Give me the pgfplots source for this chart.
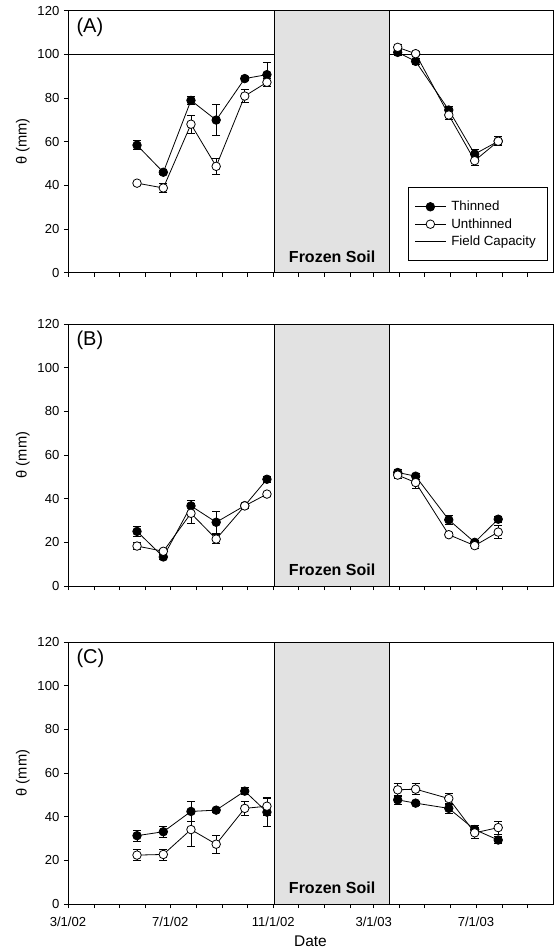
\documentclass[border=0pt]{standalone}
\usepackage{fontspec}
\setmainfont{Liberation Sans}
\usepackage{pgfplots}
\pgfplotsset{compat=1.18}
\definecolor{frozen}{RGB}{226,226,226}
\pgfplotsset{
  panel/.style={
    scale only axis, width=363.75pt, height=196.5pt,
    anchor=south west,
    xmin=0, xmax=579, ymin=0, ymax=120,
    xtick={0,122,245,365,487},
    minor xtick={31,61,92,153,184,214,275,306,337,396,426,457,518,549},
    ytick={0,20,40,60,80,100,120},
    xtick pos=left, ytick pos=left,
    tick align=outside,
    major tick length=3pt, minor tick length=3pt,
    tick style={black, line width=0.6pt},
    axis line style={line width=0.7pt},
    /pgf/number format/assume math mode=true,
    ticklabel style={font=\fontsize{9.8}{11}\selectfont},
    xticklabel style={yshift=-3pt},
    xticklabels={},
    ylabel={θ (mm)},
    ylabel style={font=\fontsize{11}{13}\selectfont, at={(axis description cs:-0.093,0.5)}, anchor=center},
  },
  tser/.style={black, line width=0.6pt, mark=*, mark size=3.2pt,
    mark options={solid, fill=black, line width=0.6pt},
    /pgfplots/error bars/y dir=both, /pgfplots/error bars/y explicit,
    /pgfplots/error bars/error bar style={line width=0.6pt, black},
    /pgfplots/error bars/error mark options={rotate=90, mark size=3pt, line width=0.6pt, black}},
  user/.style={black, line width=0.6pt, mark=*, mark size=3.2pt,
    mark options={solid, fill=white, line width=0.6pt},
    /pgfplots/error bars/y dir=both, /pgfplots/error bars/y explicit,
    /pgfplots/error bars/error bar style={line width=0.6pt, black},
    /pgfplots/error bars/error mark options={rotate=90, mark size=3pt, line width=0.6pt, black}},
  frozenbox/.style={draw=black, line width=0.7pt, fill=frozen},
}
\newcommand{\frozenlabel}{\node[font=\bfseries\fontsize{12}{14}\selectfont] at (axis cs:315.3,7.3) {Frozen Soil};}
\begin{document}
\begin{tikzpicture}
\useasboundingbox (0,0) rectangle (417pt,-712.5pt);

% ---------------- Panel A ----------------
\begin{axis}[panel, at={(51pt,-204.5pt)},
  legend style={at={(0.99,0.044)}, anchor=south east, draw=black, line width=0.6pt,
    font=\fontsize{10}{12}\selectfont, cells={anchor=west}, row sep=0.3pt,
    inner xsep=5pt, inner ysep=8pt, nodes={inner xsep=4pt}},
  legend image code/.code={\draw[mark repeat=2,mark phase=2,#1] plot coordinates {(0cm,0cm) (0.4cm,0cm) (0.8cm,0cm)};},
]
\addlegendimage{black, line width=0.6pt, mark=*, mark size=3.2pt, mark options={solid, fill=black}}
\addlegendentry{Thinned}
\addlegendimage{black, line width=0.6pt, mark=*, mark size=3.2pt, mark options={solid, fill=white}}
\addlegendentry{Unthinned}
\addlegendimage{black, line width=0.6pt}
\addlegendentry{Field Capacity}
\addplot[black, line width=0.7pt, forget plot] coordinates {(0,100) (579,100)};
\addplot[frozenbox, forget plot] coordinates {(247,0) (247,120) (383.5,120) (383.5,0)} -- cycle;
\frozenlabel
\node[anchor=west, font=\fontsize{15}{17}\selectfont] at (rel axis cs:0.008,0.938) {(A)};
\addplot[tser, forget plot] table[x=d, y=v, y error=e, row sep=\\] {
d v e \\ 82.4 58.4 2 \\ 113.8 46.0 1 \\ 146.8 78.9 2 \\ 176.9 69.9 7 \\ 211.0 88.9 1 \\ 237.5 90.7 5.5 \\ };
\addplot[user, forget plot] table[x=d, y=v, y error=e, row sep=\\] {
d v e \\ 82.4 41.0 1 \\ 113.8 38.8 2 \\ 146.8 68.0 4 \\ 176.9 48.7 3.5 \\ 211.0 80.9 3 \\ 237.5 87.2 2 \\ };
\addplot[tser, forget plot] table[x=d, y=v, y error=e, row sep=\\] {
d v e \\ 393.6 100.9 1.5 \\ 415.0 96.8 1.5 \\ 454.6 74.5 1.5 \\ 485.5 54.3 2 \\ 513.6 60.2 2 \\ };
\addplot[user, forget plot] table[x=d, y=v, y error=e, row sep=\\] {
d v e \\ 393.6 103.2 1.5 \\ 415.0 100.3 1 \\ 454.6 72.2 2 \\ 485.5 51.3 2 \\ 513.6 60.2 2 \\ };
\end{axis}

% ---------------- Panel B ----------------
\begin{axis}[panel, at={(51pt,-439.5pt)}]
\addplot[frozenbox] coordinates {(247,0) (247,120) (383.5,120) (383.5,0)} -- cycle;
\frozenlabel
\node[anchor=west, font=\fontsize{15}{17}\selectfont] at (rel axis cs:0.008,0.936) {(B)};
\addplot[tser] table[x=d, y=v, y error=e, row sep=\\] {
d v e \\ 82.4 25.0 2.5 \\ 113.8 13.3 1 \\ 146.8 36.7 2.7 \\ 176.9 29.2 5 \\ 211.0 36.8 1 \\ 237.5 48.9 1.5 \\ };
\addplot[user] table[x=d, y=v, y error=e, row sep=\\] {
d v e \\ 82.4 18.3 1.5 \\ 113.8 15.9 1 \\ 146.8 33.3 4.5 \\ 176.9 21.5 2 \\ 211.0 36.7 1 \\ 237.5 42.1 1 \\ };
\addplot[tser] table[x=d, y=v, y error=e, row sep=\\] {
d v e \\ 393.6 52.0 1.5 \\ 415.0 50.3 1.5 \\ 454.6 30.3 2 \\ 485.5 20.0 1 \\ 513.6 30.6 1.5 \\ };
\addplot[user] table[x=d, y=v, y error=e, row sep=\\] {
d v e \\ 393.6 50.8 1.5 \\ 415.0 47.4 2.5 \\ 454.6 23.5 1 \\ 485.5 18.5 1.5 \\ 513.6 24.7 3 \\ };
\end{axis}

% ---------------- Panel C ----------------
\begin{axis}[panel, at={(51pt,-678pt)},
  xticklabels={3/1/02,7/1/02,11/1/02,3/1/03,7/1/03},
  xlabel={Date},
  xlabel style={font=\fontsize{11.6}{13}\selectfont, at={(axis description cs:0.5,-0.143)}, anchor=center},
]
\addplot[frozenbox] coordinates {(247,0) (247,120) (383.5,120) (383.5,0)} -- cycle;
\frozenlabel
\node[anchor=west, font=\fontsize{15}{17}\selectfont] at (rel axis cs:0.008,0.936) {(C)};
\addplot[tser] table[x=d, y=v, y error=e, row sep=\\] {
d v e \\ 82.4 31.3 2.5 \\ 113.8 33.1 2.5 \\ 146.8 42.4 4.5 \\ 176.9 43.0 1 \\ 211.0 51.7 1.5 \\ 237.5 42.1 6.5 \\ };
\addplot[user] table[x=d, y=v, y error=e, row sep=\\] {
d v e \\ 82.4 22.4 2.5 \\ 113.8 22.7 2.5 \\ 146.8 34.1 7.5 \\ 176.9 27.4 4.2 \\ 211.0 43.8 3 \\ 237.5 44.8 4 \\ };
\addplot[tser] table[x=d, y=v, y error=e, row sep=\\] {
d v e \\ 393.6 47.7 2 \\ 415.0 46.2 1 \\ 454.6 43.8 2.5 \\ 485.5 34.1 2 \\ 513.6 29.3 1.5 \\ };
\addplot[user] table[x=d, y=v, y error=e, row sep=\\] {
d v e \\ 393.6 52.3 3 \\ 415.0 52.6 2.5 \\ 454.6 48.3 2.5 \\ 485.5 32.6 2.5 \\ 513.6 35.0 3 \\ };
\end{axis}
\end{tikzpicture}
\end{document}
